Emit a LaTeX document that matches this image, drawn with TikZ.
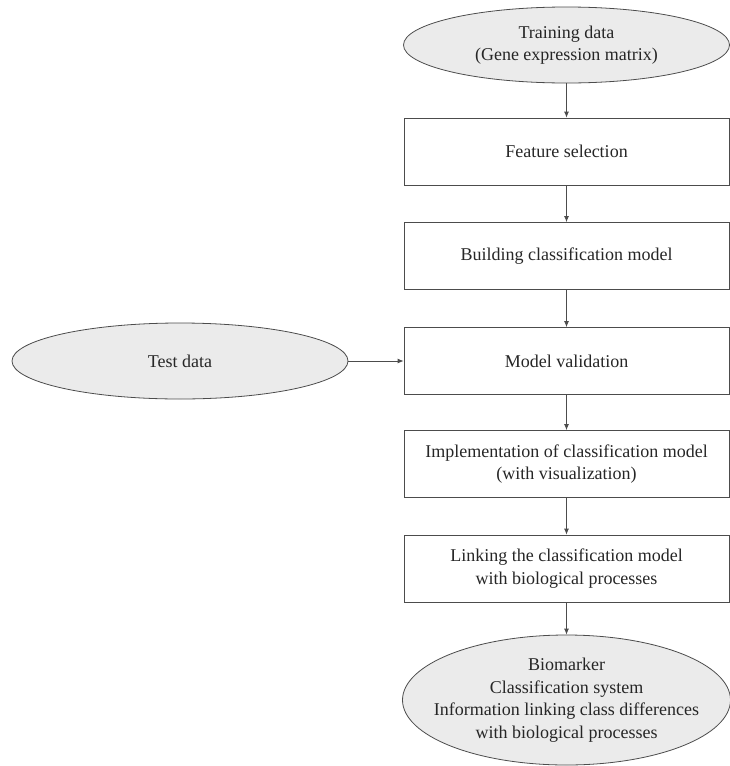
\documentclass[tikz,border=0pt]{standalone}
\usepackage{fontspec}
\setmainfont{Liberation Serif}
\usetikzlibrary{shapes.geometric,arrows.meta}
\begin{document}
\begin{tikzpicture}[x=1pt,y=-1pt,
  every node/.style={font=\fontsize{18}{22.5}\selectfont, text=black!85, align=center},
  stepbox/.style={draw=black!70, line width=0.8pt, minimum width=325pt, minimum height=67pt, inner sep=0pt},
  datanode/.style={draw=black!70, line width=0.8pt, ellipse, fill=black!8, inner sep=0pt},
  flow/.style={draw=black!70, line width=0.8pt, -{Latex[length=6pt,width=5pt]}}]
\useasboundingbox (0,0) rectangle (730,766);
\node[datanode, minimum width=326pt, minimum height=76pt] (train) at (566.5,45) {Training data\\(Gene expression matrix)};
\node[stepbox] (fs) at (566.5,151.5) {Feature selection};
\node[stepbox] (build) at (566.5,256) {Building classification model};
\node[stepbox] (valid) at (566.5,361) {Model validation};
\node[stepbox] (impl) at (566.5,464) {Implementation of classification model\\(with visualization)};
\node[stepbox] (link) at (566.5,568.5) {Linking the classification model\\with biological processes};
\node[datanode, minimum width=336pt, minimum height=76pt] (test) at (180,361) {Test data};
% the outcome ellipse keeps a fixed size; its four lines sit on top as a centred label
\node[datanode, minimum width=328pt, minimum height=130pt,
  label={[name=biotext, align=center]center:Biomarker\\Classification system\\Information linking class differences\\with biological processes}] (bio) at (566.5,700) {};
\draw[flow] (train) -- (fs);
\draw[flow] (fs) -- (build);
\draw[flow] (build) -- (valid);
\draw[flow] (valid) -- (impl);
\draw[flow] (impl) -- (link);
\draw[flow] (link) -- (bio);
\draw[flow] (test) -- (valid);
\end{tikzpicture}
\end{document}
